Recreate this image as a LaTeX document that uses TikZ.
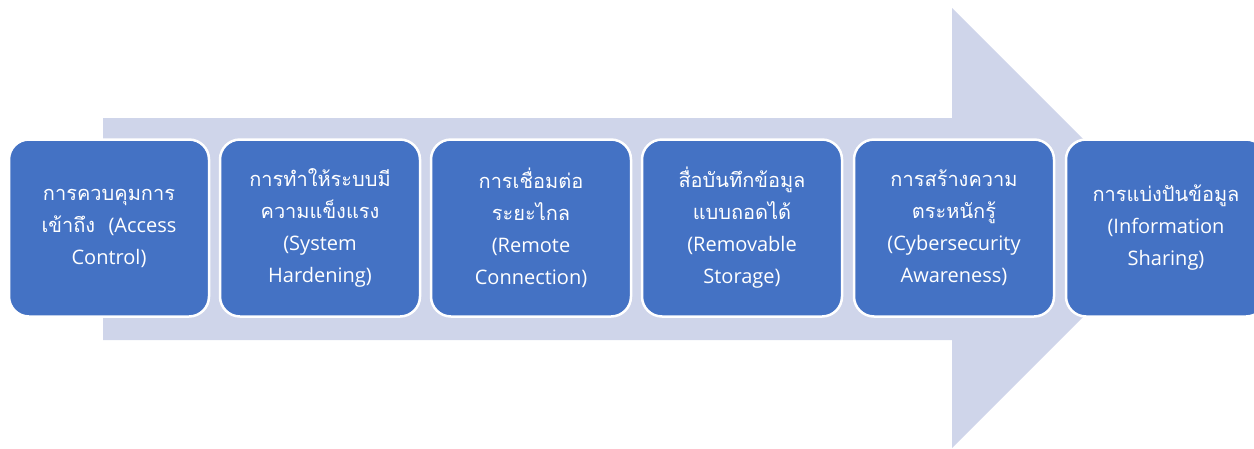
\documentclass[tikz,border=0pt]{standalone}
\usepackage{fontspec}
\setmainfont{Open Sans}
\newfontfamily\thaifont[Script=Thai]{Loma}
\newcommand{\thtxt}[1]{{\thaifont #1}}
\definecolor{boxblue}{HTML}{4472C4}
\definecolor{flowlav}{HTML}{CFD5EA}
\tikzset{
  stagebox/.style={draw=white, line width=2.5pt, fill=boxblue, rounded corners=20pt,
    minimum width=200pt, minimum height=177pt, text width=186pt, align=center,
    text=white, font=\fontsize{20}{32}\selectfont, inner sep=0pt}
}
\begin{document}
\begin{tikzpicture}[x=1pt, y=-1pt]
\useasboundingbox (0,0) rectangle (1254,448);
\clip (0,0) rectangle (1254,448);
% big background arrow
\fill[flowlav] (103,118) -- (952,118) -- (952,8) -- (1172,228) -- (952,448)
  -- (952,340) -- (103,340) -- cycle;

\node[stagebox] (access) at (109,228) {\thtxt{การควบคุมการ}\\\thtxt{เข้าถึง} ~(Access\\Control)};
\node[stagebox] (harden) at (320,228) {\thtxt{การทำให้ระบบมี}\\\thtxt{ความแข็งแรง}\\(System\\Hardening)};
\node[stagebox] (remote) at (531,228) {\thtxt{การเชื่อมต่อ}\\\thtxt{ระยะไกล}\\(Remote\\Connection)};
\node[stagebox] (storage) at (742,228) {\thtxt{สื่อบันทึกข้อมูล}\\\thtxt{แบบถอดได้}\\(Removable\\Storage)};
\node[stagebox] (aware) at (954,228) {\thtxt{การสร้างความ}\\\thtxt{ตระหนักรู้}\\(Cybersecurity\\Awareness)};
\node[stagebox] (share) at (1166,228) {\thtxt{การแบ่งปันข้อมูล}\\(Information\\Sharing)};
\end{tikzpicture}
\end{document}
